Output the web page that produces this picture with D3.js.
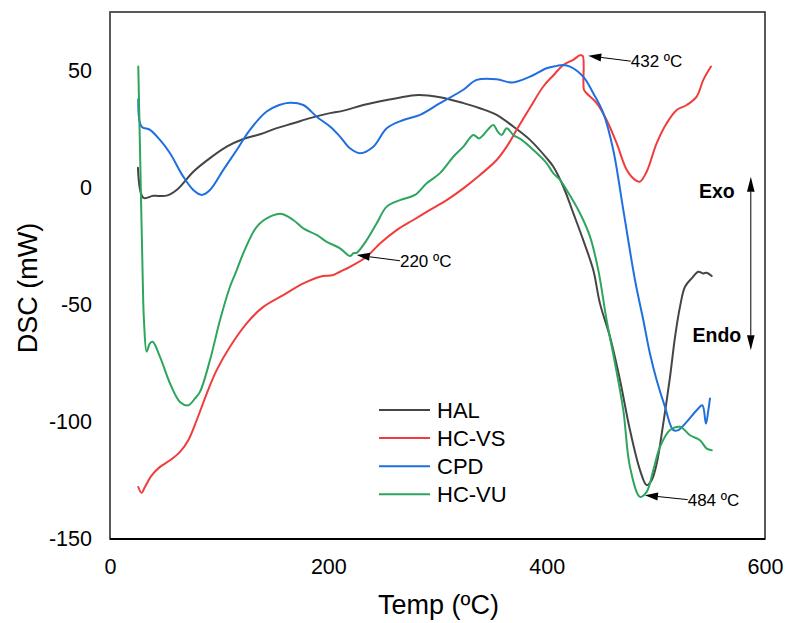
<!DOCTYPE html>
<html><head><meta charset="utf-8">
<script src="https://cdn.jsdelivr.net/npm/d3@7"></script>
<style>body{margin:0;background:#fff;}svg{display:block;font-family:"Liberation Sans",Arial,sans-serif;}</style>
</head><body>
<svg id="c" width="787" height="623"></svg>
<script>
// ---- data (Temp ºC, DSC mW) ----
const seriesNames = ["HAL", "HC-VS", "CPD", "HC-VU"];
const seriesColors = ["#454545", "#f03c3c", "#1f6fe0", "#2ea55e"];
const xTicks = [0, 200, 400, 600];
const yTicks = [-150, -100, -50, 0, 50];

const hal = [[25.6,8.5],[30.5,-4.3],[39.7,-3.5],[51.9,-3.4],[61,-1],[76.3,6.8],[91.6,12.6],[106.9,17.5],[122.1,20.8],[137.4,22.8],[152.7,25.4],[167.9,27.5],[183.2,29.7],[198.5,31.5],[215,33],[232,35.3],[262.6,38.2],[282.4,39.6],[302.3,38.6],[323.7,36.1],[338.9,33.9],[354.2,31.1],[369.4,26.1],[384.7,20.4],[400,12.6],[406,9],[415.3,0.4],[424.4,-10.9],[433.5,-22.4],[442.7,-35.2],[448.8,-49.4],[458,-63.7],[467.2,-82.2],[476.3,-103.5],[485.5,-120.6],[491.6,-127],[496.2,-124.9],[500.8,-117.8],[506.8,-100.7],[513,-80.8],[517.6,-63.7],[522.1,-50.9],[526.7,-42.3],[532.8,-38.7],[538.9,-35.9],[543.5,-36.6],[546.6,-36.3],[551.2,-37.7]];

const hcvs = [[25.9,-127.8],[28.9,-130.3],[32,-127.8],[38.2,-122.8],[45.8,-119.2],[55,-116.4],[64.1,-112.8],[71.7,-107.8],[79.4,-99.3],[88.6,-87.9],[97.7,-77.9],[109.9,-67.9],[125.2,-57.9],[140.4,-50.9],[158.7,-45.9],[177.1,-40.9],[192.4,-38],[204.5,-37.3],[210.7,-35.9],[219.8,-33.8],[235.1,-29.5],[247.3,-23.8],[262.6,-18.1],[277.8,-13.8],[293.1,-9.5],[308.4,-5.3],[323.7,-0.3],[338.9,5.4],[354.2,11.8],[363.4,17.5],[372.5,24.7],[384.7,34.1],[396.9,43.2],[406,47.9],[415.3,52.4],[424.4,54.6],[430.5,56.5],[433,56.3],[434.2,41.8],[436.6,40.3],[445.8,36.1],[454.9,28.9],[464.1,19],[473.3,7.6],[480.9,3.3],[485.5,2.6],[491.6,6.8],[500.8,19],[509.9,27.5],[519.1,33.2],[528.3,35.3],[537.4,38.9],[543.5,46],[550.5,51.7]];

const cpd = [[25.9,37.8],[28.9,26.1],[36.6,24.7],[45.8,20.4],[55,14.7],[67.1,4.7],[76.3,-1],[84,-3.1],[91.6,-1],[103.8,7.6],[116.1,16.1],[128.2,24.7],[143.5,32.5],[155,35.3],[164.9,36.3],[177.1,35.3],[189.3,30.3],[201.5,26.1],[210.7,21.8],[219.8,16.8],[229,14.7],[241.2,17.5],[253.5,25.4],[268.7,28.9],[284,31.1],[302.3,36.1],[323.7,41.8],[335.9,46],[354.2,46.3],[368,44.9],[384.7,47.4],[400,51],[409.2,52],[415,52.4],[421.4,51.7],[433.5,47.4],[442.7,40.3],[451.9,31.8],[461,16.1],[470.2,-9.5],[480.9,-39.4],[488.5,-56.5],[494.6,-70.8],[500.8,-82.2],[508.4,-93.6],[516,-103.5],[520.6,-103.5],[528.3,-100],[537.4,-95],[542.6,-92.9],[545.9,-100.7],[548.1,-95],[549.6,-90]];

const hcvu = [[25.9,51.7],[28,5],[30,-39.4],[31.1,-56.5],[33.6,-70],[36.5,-66.5],[39.1,-65.8],[45.8,-72.2],[55,-83.6],[64.1,-91.5],[71.7,-92.9],[77.9,-90],[82.4,-87.2],[91.6,-73.6],[100.8,-56.5],[109.9,-42.3],[116.1,-35.2],[122.1,-28],[134.4,-16.7],[146.6,-12.4],[157.3,-11.2],[167.9,-13.8],[177.1,-17.4],[189.3,-20.2],[198.5,-23.1],[210.7,-25.9],[219.8,-29.2],[223,-28],[226,-27.8],[235.1,-22.4],[244.3,-15.2],[253.5,-8.1],[265.6,-5.3],[279.4,-3.1],[290.1,1.9],[302.3,6.2],[314.5,13.2],[323.7,17.5],[332.8,22.5],[338,21],[342,22.5],[351.1,26.8],[355,24],[358.8,22.5],[363.4,25.4],[369.4,22.5],[377.1,20.4],[387.8,16.1],[400,10.4],[406,6.2],[412.2,3.3],[418.3,-1],[430.5,-10.9],[439.7,-20.9],[447.3,-35.2],[454.9,-56.5],[462.6,-75],[470.2,-95],[476.3,-119.2],[485.5,-132],[491.6,-129.9],[497.7,-120.6],[503.8,-110.7],[513,-103.5],[522.1,-102.1],[531.3,-105.7],[540.4,-107.8],[546.6,-111.4],[551.2,-112.1]];

const seriesData = [hal, hcvs, cpd, hcvu];

// annotations: label, tip [T,V], label anchor [T,V]
const annLabels = ["432 ºC", "220 ºC", "484 ºC"];
const annTips = [[438.1,56.3],[226,-28.8],[490,-131.3]];
const annStarts = [[477,54],[265.6,-31.2],[529.2,-133.2]];
// Exo / Endo double arrow: T, V top, V bottom
const exoArrow = [587, 4.7, -69.4];

// ---- layout ----
const svg = d3.select("#c");
const L = 110, R = 765, T = 12, B = 539;
const x = d3.scaleLinear().domain([0, 600]).range([L, R]);
const y = d3.scaleLinear().domain([-150, 75]).range([B, T]);

// axes
const xa = svg.append("g").attr("transform", `translate(0,${B})`)
  .call(d3.axisBottom(x).tickValues(xTicks).tickFormat(d => String(d)).tickSize(0).tickPadding(20));
const ya = svg.append("g").attr("transform", `translate(${L},0)`)
  .call(d3.axisLeft(y).tickValues(yTicks).tickFormat(d => String(d)).tickSize(0).tickPadding(18));
[xa, ya].forEach(g => {
  g.select(".domain").remove();
  g.selectAll("text").attr("font-size", 21.5).attr("fill", "#000")
    .attr("font-family", '"Liberation Sans", Arial, sans-serif');
});

// frame
svg.append("rect").attr("x", L).attr("y", T).attr("width", R - L).attr("height", B - T)
  .attr("fill", "none").attr("stroke", "#222").attr("stroke-width", 1.5);
svg.append("line").attr("x1", L).attr("x2", L).attr("y1", T).attr("y2", B)
  .attr("stroke", "#595959").attr("stroke-width", 2);
svg.append("line").attr("x1", L).attr("x2", R).attr("y1", B).attr("y2", B)
  .attr("stroke", "#000").attr("stroke-width", 2);

// axis titles
svg.append("text").attr("x", 438.5).attr("y", 614).attr("text-anchor", "middle")
  .attr("font-size", 27).text("Temp (ºC)");
svg.append("text").attr("transform", `translate(37,288) rotate(-90)`)
  .attr("text-anchor", "middle").attr("font-size", 27).text("DSC (mW)");

// lines
const line = d3.line().x(d => x(d[0])).y(d => y(d[1])).curve(d3.curveCatmullRom.alpha(0.5));
seriesData.forEach((s, i) => {
  svg.append("path").datum(s).attr("d", line).attr("fill", "none")
    .attr("stroke", seriesColors[i]).attr("stroke-width", 2)
    .attr("stroke-linejoin", "round").attr("stroke-linecap", "round");
});

// legend
const legY0 = 410, legDy = 28.1;
seriesNames.forEach((n, i) => {
  const yy = legY0 + i * legDy;
  svg.append("line").attr("x1", 379).attr("x2", 430).attr("y1", yy).attr("y2", yy)
    .attr("stroke", seriesColors[i]).attr("stroke-width", 2);
  svg.append("text").attr("x", 437).attr("y", yy).attr("dy", "0.35em")
    .attr("font-size", 22).text(n);
});

// arrowhead helper
function arrowHead(tipX, tipY, fromX, fromY, len, halfW) {
  const a = Math.atan2(tipY - fromY, tipX - fromX);
  const bx = tipX - len * Math.cos(a), by = tipY - len * Math.sin(a);
  const px = -Math.sin(a) * halfW, py = Math.cos(a) * halfW;
  svg.append("path").attr("d", `M${tipX},${tipY}L${bx + px},${by + py}L${bx - px},${by - py}Z`)
    .attr("fill", "#000");
  return [bx, by];
}

// annotations
annLabels.forEach((lab, i) => {
  const tx = x(annTips[i][0]), ty = y(annTips[i][1]);
  const sx = x(annStarts[i][0]), sy = y(annStarts[i][1]);
  const [bx, by] = arrowHead(tx, ty, sx, sy, 13, 4);
  svg.append("line").attr("x1", sx).attr("y1", sy).attr("x2", bx).attr("y2", by)
    .attr("stroke", "#000").attr("stroke-width", 1);
  svg.append("text").attr("x", sx).attr("y", sy).attr("dy", "0.35em")
    .attr("font-size", 17).text(lab);
});

// Exo / Endo
const ax = x(exoArrow[0]), ayTop = y(exoArrow[1]), ayBot = y(exoArrow[2]);
const [b1x, b1y] = arrowHead(ax, ayTop, ax, ayBot, 15, 3.8);
const [b2x, b2y] = arrowHead(ax, ayBot, ax, ayTop, 15, 3.8);
svg.append("line").attr("x1", ax).attr("x2", ax).attr("y1", b1y).attr("y2", b2y)
  .attr("stroke", "#000").attr("stroke-width", 1);
svg.append("text").attr("x", 699).attr("y", 198).attr("font-size", 19.5)
  .attr("font-weight", "bold").text("Exo");
svg.append("text").attr("x", 692.5).attr("y", 341.5).attr("font-size", 19.5)
  .attr("font-weight", "bold").text("Endo");
</script>
</body></html>
